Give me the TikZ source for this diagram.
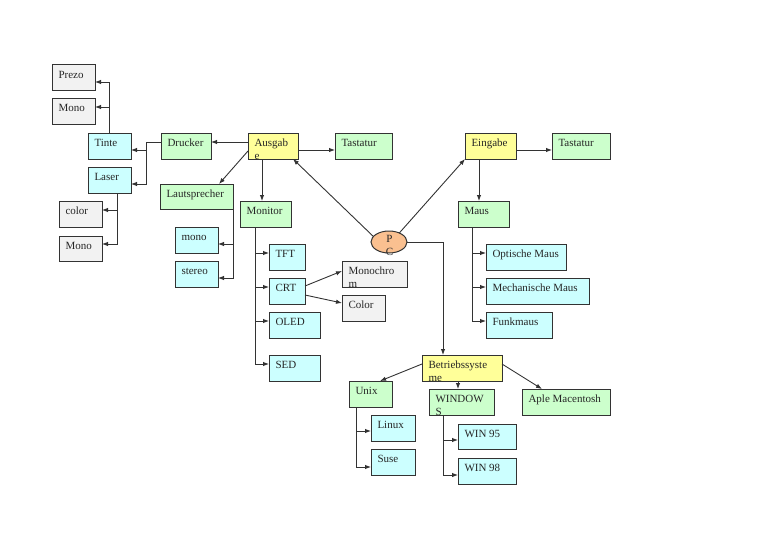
\documentclass[tikz,border=0pt]{standalone}
\usepackage{fontspec}
\setmainfont{Liberation Serif}
\usetikzlibrary{arrows.meta,calc}
\definecolor{cgrey}{HTML}{F2F2F2}
\definecolor{ccyan}{HTML}{CCFFFF}
\definecolor{cgreen}{HTML}{CCFFCC}
\definecolor{cyel}{HTML}{FFFF99}
\definecolor{corange}{HTML}{FAC090}
\definecolor{cline}{HTML}{333333}
\newcommand\tw[2]{\vtop{\baselineskip=13pt\hbox{#1}\hbox{#2}}}
\newcommand\bx[7]{%
  \node[boxbase,#6,minimum width={(#4-#2)*1pt},minimum height={(#5-#3)*1pt}] (#1) at ({(#2+#4)/2},{(#3+#5)/2}) {};
  \begin{scope}\clip (#2,#3) rectangle (#4,#5);
  \node[txt] (#1-t) at ({#2+6.5},{#3+13}) {#7};
  \end{scope}}
\tikzset{
  boxbase/.style={draw=cline,line width=1pt,inner sep=0pt,outer sep=0pt,rectangle},
  gbox/.style={fill=cgrey},
  cbox/.style={fill=ccyan},
  nbox/.style={fill=cgreen},
  ybox/.style={fill=cyel},
  txt/.style={anchor=base west,inner sep=0pt,outer sep=0pt,text=black!85,font=\fontsize{11}{13}\selectfont},
  arr/.style={draw=cline,line width=0.9pt,-{Latex[length=6pt,width=4.5pt]}}
}
\begin{document}
\begin{tikzpicture}[x=1pt,y=-1pt]
\useasboundingbox (0,0) rectangle (768,543);
% grey
\bx{prezo}{52}{65}{95}{90}{gbox}{Prezo}
\bx{monoA}{52}{98}{95}{124}{gbox}{Mono}
\bx{colorL}{59}{201}{102}{227}{gbox}{color}
\bx{monoB}{59}{236}{102}{261}{gbox}{Mono}
\bx{monochrom}{342}{261}{407}{287}{gbox}{\tw{Monochro}{m}}
\bx{colorM}{342}{295}{385}{321}{gbox}{Color}
% cyan
\bx{tinte}{88}{133}{131}{159}{cbox}{Tinte}
\bx{laser}{88}{167}{131}{193}{cbox}{Laser}
\bx{monoL}{175}{227}{218}{253}{cbox}{mono}
\bx{stereo}{175}{261}{218}{287}{cbox}{stereo}
\bx{tft}{269}{244}{305}{270}{cbox}{TFT}
\bx{crt}{269}{278}{305}{304}{cbox}{CRT}
\bx{oled}{269}{312}{320}{338}{cbox}{OLED}
\bx{sed}{269}{355}{320}{381}{cbox}{SED}
\bx{optische}{486}{244}{566}{270}{cbox}{Optische Maus}
\bx{mechanische}{486}{278}{589}{304}{cbox}{Mechanische Maus}
\bx{funkmaus}{486}{312}{552}{338}{cbox}{Funkmaus}
\bx{linux}{371}{415}{415}{441}{cbox}{Linux}
\bx{suse}{371}{449}{415}{475}{cbox}{Suse}
\bx{winA}{458}{424}{516}{449}{cbox}{WIN 95}
\bx{winB}{458}{458}{516}{484}{cbox}{WIN 98}
% green
\bx{drucker}{161}{133}{211}{159}{nbox}{Drucker}
\bx{lautsprecher}{160}{184}{233}{209}{nbox}{Lautsprecher}
\bx{monitor}{240}{201}{291}{227}{nbox}{Monitor}
\bx{tastaturA}{335}{133}{392}{159}{nbox}{Tastatur}
\bx{tastaturB}{552}{133}{610}{159}{nbox}{Tastatur}
\bx{maus}{458}{201}{509}{227}{nbox}{Maus}
\bx{unix}{349}{381}{392}{407}{nbox}{Unix}
\bx{windows}{429}{389}{494}{415}{nbox}{\tw{WINDOW}{S}}
\bx{aple}{522}{389}{610}{415}{nbox}{Aple Macentosh}
% yellow
\bx{ausgabe}{248}{133}{298}{159}{ybox}{\tw{Ausgab}{e}}
\bx{eingabe}{465}{133}{516}{159}{ybox}{Eingabe}
\bx{betriebs}{422}{355}{502}{381}{ybox}{\tw{Betriebssyste}{me}}
% PC ellipse
\draw[draw=cline,line width=1pt,fill=corange] (389,242) ellipse [x radius=18,y radius=11];
\coordinate (pc) at (389,242);
\coordinate (pcE) at (407,242);
\coordinate (pcNW) at (373.4,236.5);
\coordinate (pcNE) at (399.3,233);
\begin{scope}\clip (371,229) rectangle (407,257);
\node[txt] (pc-t) at (389,242) {\vtop{\baselineskip=13pt\hbox to 0pt{\hss P\hss}\hbox to 0pt{\hss C\hss}}};
\end{scope}
% connectors
\draw[arr] ($(ausgabe.north west)+(0,9)$) -- ($(drucker.north east)+(0,9)$);
\draw[arr] ($(ausgabe.north east)+(0,17)$) -- ($(tastaturA.north west)+(0,17)$);
\draw[arr] ($(ausgabe.north west)+(0,18)$) -- ($(lautsprecher.north west)+(59,0)$);
\draw[arr] ($(ausgabe.south west)+(14,0)$) -- ($(monitor.north west)+(22,0)$);
\draw[arr] (pcNW) -- ($(ausgabe.south east)+(-5,0)$);
\draw[arr] (pcNE) -- (eingabe.south west);
\draw[arr] (pcE) -| ($(betriebs.north west)+(21,0)$);
\draw[arr] ($(eingabe.north east)+(0,17)$) -- ($(tastaturB.north west)+(0,17)$);
\draw[arr] ($(eingabe.south west)+(14,0)$) -- ($(maus.north west)+(21,0)$);
\draw[arr] ($(maus.south west)+(14,0)$) |- ($(optische.north west)+(0,9)$);
\draw[arr] ($(maus.south west)+(14,0)$) |- ($(mechanische.north west)+(0,9)$);
\draw[arr] ($(maus.south west)+(14,0)$) |- ($(funkmaus.north west)+(0,9)$);
\draw[arr] ($(drucker.north west)+(0,9)$) -- ++(-15,0) |- ($(tinte.north east)+(0,17)$);
\draw[arr] ($(drucker.north west)+(0,9)$) -- ++(-15,0) |- ($(laser.north east)+(0,17)$);
\draw[arr] ($(tinte.north west)+(21,0)$) |- ($(prezo.north east)+(0,17)$);
\draw[arr] ($(tinte.north west)+(21,0)$) |- ($(monoA.north east)+(0,9)$);
\draw[arr] ($(laser.south west)+(29,0)$) |- ($(colorL.north east)+(0,9)$);
\draw[arr] ($(laser.south west)+(29,0)$) |- ($(monoB.north east)+(0,8)$);
\draw[arr] (lautsprecher.south east) |- ($(monoL.north east)+(0,17)$);
\draw[arr] (lautsprecher.south east) |- ($(stereo.north east)+(0,17)$);
\draw[arr] ($(monitor.south west)+(15,0)$) |- ($(tft.north west)+(0,9)$);
\draw[arr] ($(monitor.south west)+(15,0)$) |- ($(crt.north west)+(0,9)$);
\draw[arr] ($(monitor.south west)+(15,0)$) |- ($(oled.north west)+(0,9)$);
\draw[arr] ($(monitor.south west)+(15,0)$) |- ($(sed.north west)+(0,9)$);
\draw[arr] ($(crt.north east)+(0,8)$) -- ($(monochrom.north west)+(0,10)$);
\draw[arr] ($(crt.north east)+(0,17)$) -- ($(colorM.north west)+(0,8)$);
\draw[arr] ($(betriebs.north west)+(0,9)$) -- ($(unix.north west)+(31,0)$);
\draw[arr] ($(betriebs.south west)+(36,0)$) -- ($(windows.north west)+(29,0)$);
\draw[arr] ($(betriebs.north east)+(0,9)$) -- ($(aple.north west)+(20,0)$);
\draw[arr] ($(unix.south west)+(7,0)$) |- ($(linux.north west)+(0,16)$);
\draw[arr] ($(unix.south west)+(7,0)$) |- ($(suse.north west)+(0,18)$);
\draw[arr] ($(windows.south west)+(14,0)$) |- ($(winA.north west)+(0,16)$);
\draw[arr] ($(windows.south west)+(14,0)$) |- ($(winB.north west)+(0,17)$);
\end{tikzpicture}
\end{document}
